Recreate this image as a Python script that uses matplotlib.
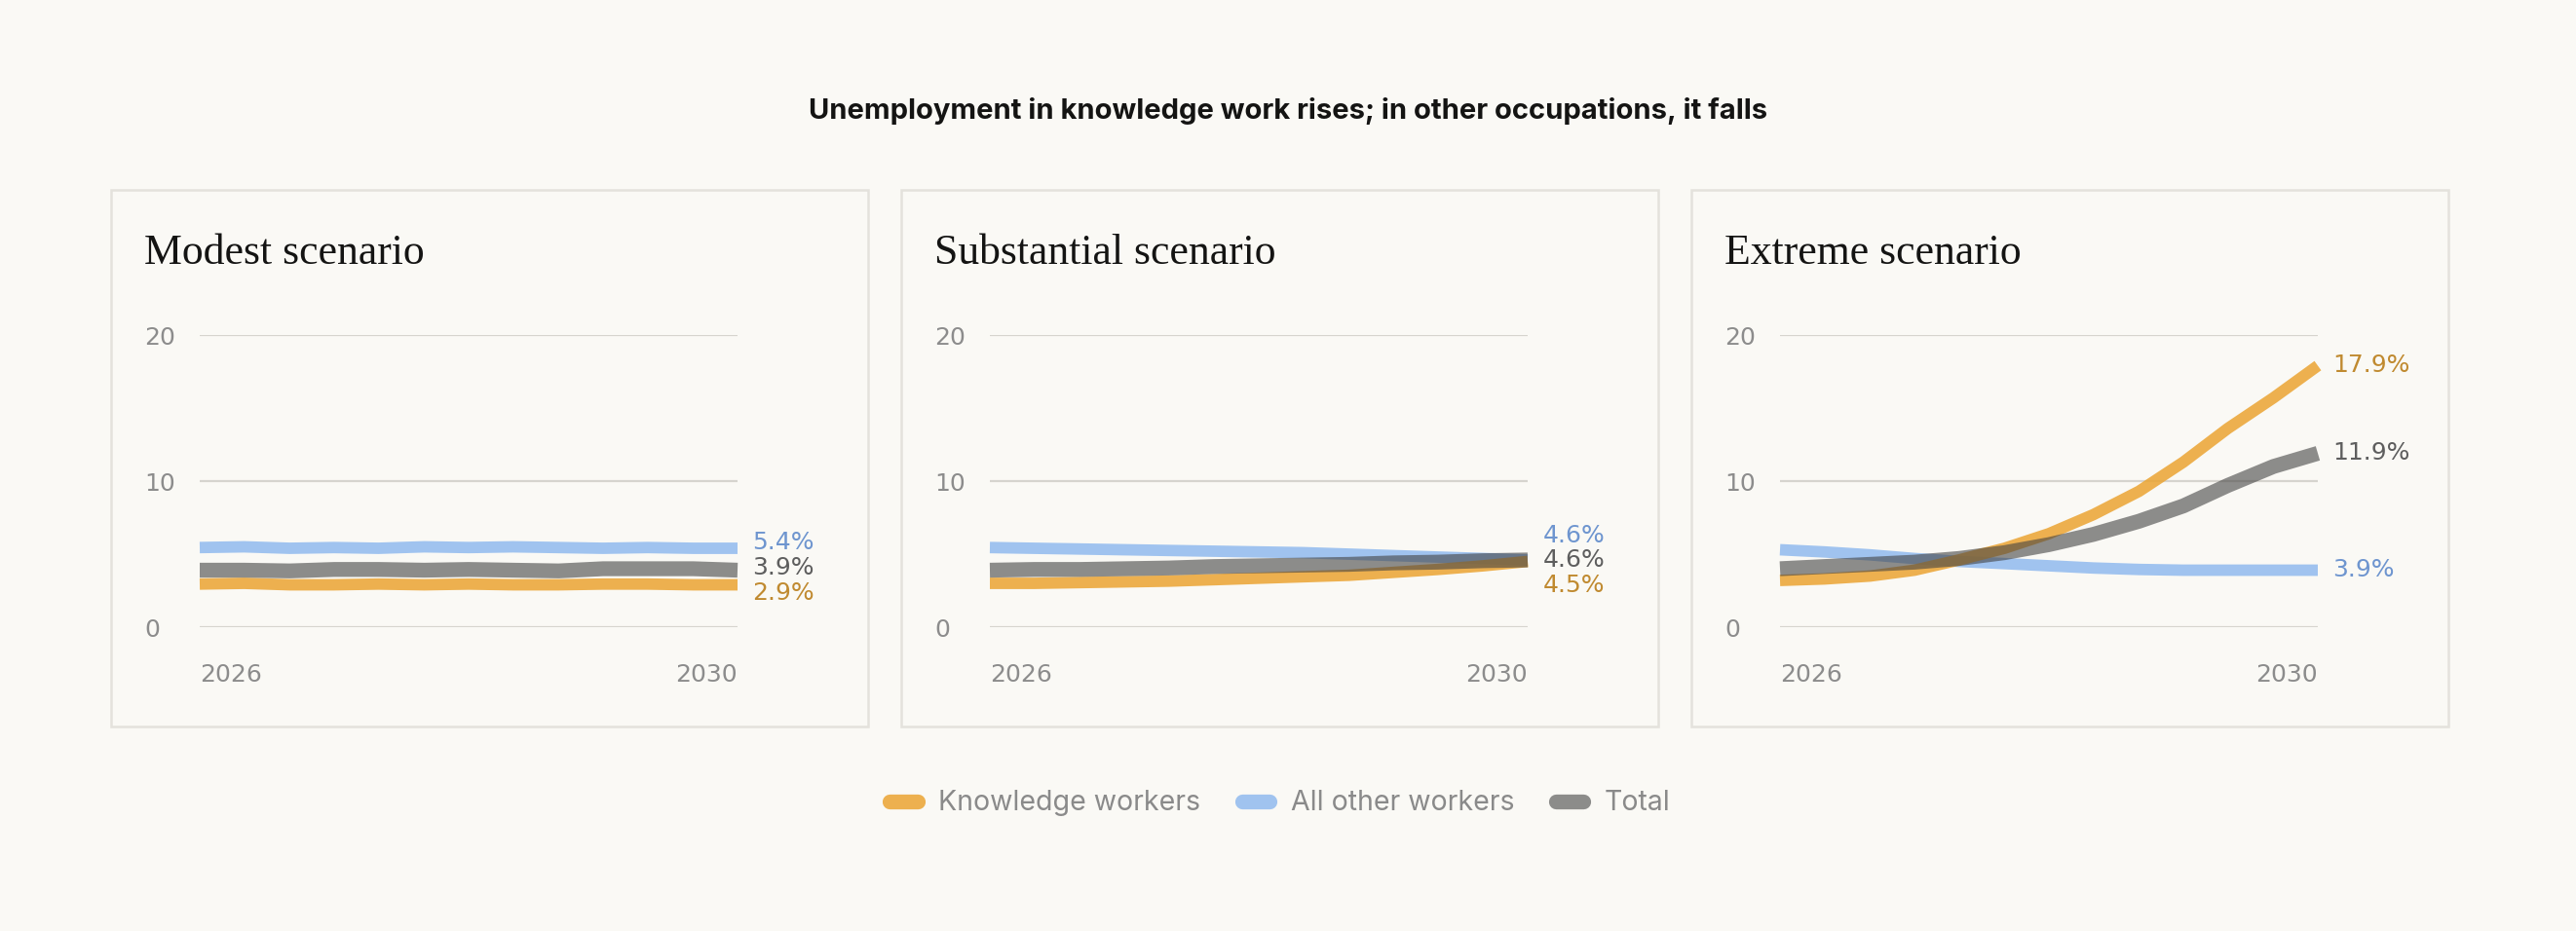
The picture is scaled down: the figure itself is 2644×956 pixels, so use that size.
import matplotlib.pyplot as plt
from matplotlib.lines import Line2D
from matplotlib.patches import Rectangle

# sample dates (every four months)
years = [2026.0, 2026.33, 2026.67, 2027.0, 2027.33, 2027.67, 2028.0,
         2028.33, 2028.67, 2029.0, 2029.33, 2029.67, 2030.0]

modest_knowledge = [2.95, 3.0, 2.9, 2.9, 2.95, 2.9, 2.95, 2.9, 2.9, 2.95, 2.95, 2.9, 2.9]
modest_other = [5.45, 5.5, 5.4, 5.45, 5.4, 5.5, 5.45, 5.5, 5.45, 5.4, 5.45, 5.4, 5.4]
modest_total = [3.9, 3.9, 3.85, 3.95, 3.95, 3.9, 3.95, 3.9, 3.85, 4.0, 4.0, 4.0, 3.9]

substantial_knowledge = [3.0, 3.0, 3.05, 3.1, 3.15, 3.25, 3.35, 3.45, 3.55, 3.75, 3.95, 4.2, 4.5]
substantial_other = [5.45, 5.4, 5.35, 5.3, 5.25, 5.2, 5.15, 5.1, 5.0, 4.9, 4.8, 4.7, 4.6]
substantial_total = [3.9, 3.95, 3.95, 4.0, 4.05, 4.15, 4.2, 4.25, 4.3, 4.4, 4.45, 4.55, 4.6]

extreme_knowledge = [3.2, 3.3, 3.5, 3.9, 4.6, 5.4, 6.4, 7.7, 9.3, 11.3, 13.6, 15.7, 17.9]
extreme_other = [5.3, 5.15, 4.95, 4.7, 4.5, 4.35, 4.2, 4.05, 3.95, 3.9, 3.9, 3.9, 3.9]
extreme_total = [4.0, 4.15, 4.3, 4.45, 4.7, 5.1, 5.65, 6.35, 7.25, 8.3, 9.7, 11.0, 11.9]

panel_titles = ["Modest scenario", "Substantial scenario", "Extreme scenario"]
series_names = ["Knowledge workers", "All other workers", "Total"]

panels = [
    (modest_knowledge, modest_other, modest_total),
    (substantial_knowledge, substantial_other, substantial_total),
    (extreme_knowledge, extreme_other, extreme_total),
]

bg = "#FAF9F5"
line_colors = ["#EBA432", "#82B2EE", "#434343"]
line_alpha = [0.85, 0.75, 0.6]
line_widths = [8.5, 8.5, 11]
line_z = [3, 2, 4]
label_colors = ["#C08A30", "#6E95CF", "#5E5E5E"]
tick_color = "#8C8C8C"
num_font = "DejaVu Sans"

W, H = 2644, 956


def fx(px):
    return px / W


def fy(py):
    return 1 - py / H


def spread(values, gap):
    # labels that sit too close are centred on their mean with a fixed gap
    order = sorted(range(len(values)), key=lambda i: (values[i], -i))
    groups = [[i] for i in order]
    pos = {i: values[i] for i in order}
    changed = True
    while changed:
        changed = False
        for k in range(len(groups) - 1):
            low_top = max(pos[i] for i in groups[k])
            high_bot = min(pos[i] for i in groups[k + 1])
            if high_bot - low_top < gap - 1e-9:
                g = groups[k] + groups[k + 1]
                centre = sum(values[i] for i in g) / len(g)
                for j, i in enumerate(g):
                    pos[i] = centre + (j - (len(g) - 1) / 2) * gap
                groups[k:k + 2] = [g]
                changed = True
                break
    return [pos[i] for i in range(len(values))]


fig = plt.figure(figsize=(W / 100, H / 100), dpi=100, facecolor=bg)

fig.text(0.5, fy(122), "Unemployment in knowledge work rises; in other occupations, it falls",
         ha="center", va="baseline", fontsize=21, fontweight="bold",
         family="Inter", color="#141413")

panel_left = [114, 925, 1736]
for p, (title, data) in enumerate(zip(panel_titles, panels)):
    x0 = panel_left[p]
    fig.patches.append(Rectangle((fx(x0), fy(746)), fx(777), 551 / H,
                                 transform=fig.transFigure, facecolor="none",
                                 edgecolor="#E4E2DC", lw=1.8, zorder=0))
    fig.text(fx(x0 + 34), fy(271), title, ha="left", va="baseline",
             fontsize=31.5, family="Liberation Serif", color="#141413")

    ax = fig.add_axes([fx(x0 + 91), fy(644), fx(552), 300 / H])
    ax.set_facecolor("none")
    ax.set_xlim(2026, 2030)
    ax.set_ylim(0, 20)
    for s in ax.spines.values():
        s.set_visible(False)
    ax.set_yticks([0, 10, 20])
    ax.set_yticklabels(["0", "10", "20"])
    ax.grid(axis="y", color="#D6D4CE", lw=1.6)
    ax.set_axisbelow(True)
    ax.tick_params(axis="y", length=0, pad=41, labelsize=18, labelcolor=tick_color)
    for lab in ax.get_yticklabels():
        lab.set_horizontalalignment("left")
        lab.set_family(num_font)
    ax.set_xticks([2026, 2030])
    ax.set_xticklabels(["2026", "2030"])
    ax.tick_params(axis="x", length=0, pad=27, labelsize=18, labelcolor=tick_color)
    xl = ax.get_xticklabels()
    xl[0].set_horizontalalignment("left")
    xl[1].set_horizontalalignment("right")
    for lab in xl:
        lab.set_family(num_font)

    for k, vals in enumerate(data):
        ax.plot(years, vals, color=line_colors[k], alpha=line_alpha[k],
                lw=line_widths[k], solid_capstyle="butt", solid_joinstyle="round",
                zorder=line_z[k], clip_on=False)

    ends = [vals[-1] for vals in data]
    label_y = spread(ends, 1.73)
    for k, v in enumerate(ends):
        ax.annotate(f"{v:.1f}%", xy=(years[-1], label_y[k]), xytext=(11, 0),
                    textcoords="offset points", ha="left", va="center",
                    fontsize=18, family=num_font, color=label_colors[k],
                    annotation_clip=False)

handles = [Line2D([0], [0], color=line_colors[k], alpha=line_alpha[k], lw=11,
                  solid_capstyle="round") for k in range(3)]
leg = fig.legend(handles, series_names, loc="center", bbox_to_anchor=(fx(1314), fy(825)),
                 ncol=3, frameon=False, handlelength=1.0,
                 handletextpad=0.75, columnspacing=1.5,
                 prop={"family": "Inter", "size": 20.5})
for t in leg.get_texts():
    t.set_color("#8A8A8A")

fig.savefig("out.png", dpi=100, facecolor=bg)
